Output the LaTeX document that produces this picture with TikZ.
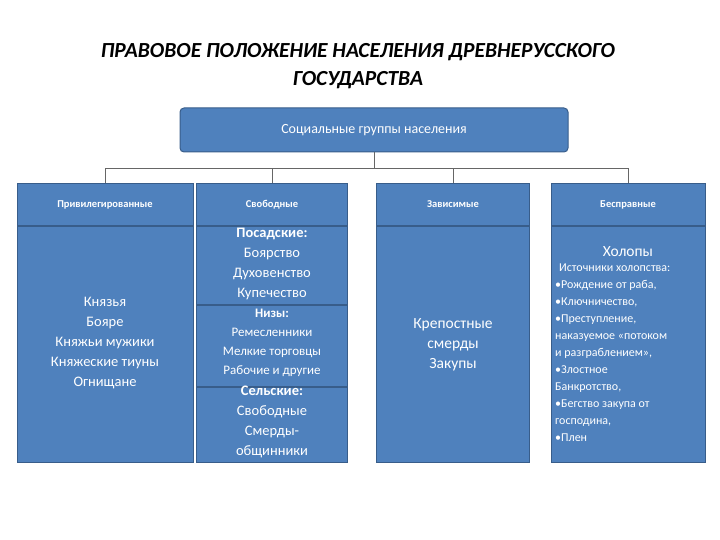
\documentclass[tikz,border=0pt]{standalone}
\usepackage{fontspec}
\setmainfont{Carlito}
\usetikzlibrary{positioning}
\definecolor{boxblue}{HTML}{4F81BD}
\definecolor{boxline}{HTML}{385D8A}
\tikzset{
  groupbox/.style={draw=boxline, fill=boxblue, line width=1pt, text=white},
  headbox/.style={groupbox, minimum height=42pt, font=\bfseries\fontsize{10.5}{12}\selectfont},
  bodytext/.style={text=white, align=center, font=\fontsize{14.5}{20}\selectfont},
  link/.style={draw=black!60, line width=.8pt}
}
\begin{document}
\begin{tikzpicture}[x=1pt,y=-1pt]
    \useasboundingbox (0,0) rectangle (720,540);

        % title
        \node[font=\bfseries\itshape\fontsize{21.5}{28}\selectfont, align=center] (title) at (358,66)
          {ПРАВОВОЕ ПОЛОЖЕНИЕ НАСЕЛЕНИЯ ДРЕВНЕРУССКОГО\\ГОСУДАРСТВА};

        % top box
        \node[groupbox, rounded corners=4pt, minimum width=388pt, minimum height=44pt,
              font=\fontsize{14}{15}\selectfont] (top) at (374,130) {Социальные группы населения};

        % column bodies
        \begin{scope}[every node/.style={groupbox, minimum height=236pt, anchor=north}]
        \node[minimum width=176pt] (B1) at (105,226) {};
        \node[minimum width=151pt] (B2) at (272,226) {};
        \node[minimum width=153pt] (B3) at (453,226) {};
        \node[minimum width=154pt] (B4) at (628,226) {};
        \end{scope}

        % column heads
        \node[headbox, minimum width=176pt, anchor=south] (H1) at (B1.north) {Привилегированные};
        \node[headbox, minimum width=151pt, anchor=south] (H2) at (B2.north) {Свободные};
        \node[headbox, minimum width=153pt, anchor=south] (H3) at (B3.north) {Зависимые};
        \node[headbox, minimum width=154pt, anchor=south] (H4) at (B4.north) {Бесправные};

        % tree
        \coordinate (fork) at (374,168);
        \path[link] (top.south) -- (fork);
        \foreach \c in {H1,H2,H3,H4}
          \path[link] (fork) -| (\c.north);

        % free: sub-dividers
        \coordinate (d1) at (B2.west |- 0,305);
        \coordinate (d2) at (B2.west |- 0,387);
        \path[draw=boxline, line width=1.5pt] (d1) -- (d1 -| B2.east);
        \path[draw=boxline, line width=1.5pt] (d2) -- (d2 -| B2.east);

        % texts
        \node[bodytext] (T1) at (105,343) {Князья\\Бояре\\Княжьи мужики\\Княжеские тиуны\\Огнищане};
        \node[bodytext] (T2a) at (272,264) {\textbf{Посадские:}\\Боярство\\Духовенство\\Купечество};
        \node[bodytext, font=\fontsize{13}{19}\selectfont] (T2b) at (272,343) {\textbf{Низы:}\\Ремесленники\\Мелкие торговцы\\Рабочие и другие};
        \node[bodytext] (T2c) at (272,422) {\textbf{Сельские:}\\Свободные\\Смерды-\\общинники};
        \node[bodytext, font=\fontsize{15.5}{20}\selectfont] (T3) at (453,345) {Крепостные\\смерды\\Закупы};
        \node[bodytext, font=\fontsize{15.5}{20}\selectfont] (T4) at (628,252) {Холопы};
        \node[text=white, align=left, font=\fontsize{12}{17}\selectfont, anchor=north west, inner sep=2pt]
          (T4b) at (553,262) {\hspace*{4pt}Источники холопства:\\•Рождение от раба,\\•Ключничество,\\•Преступление,\\наказуемое «потоком\\и разграблением»,\\•Злостное\\Банкротство,\\•Бегство закупа от\\господина,\\•Плен};

\end{tikzpicture}
\end{document}
